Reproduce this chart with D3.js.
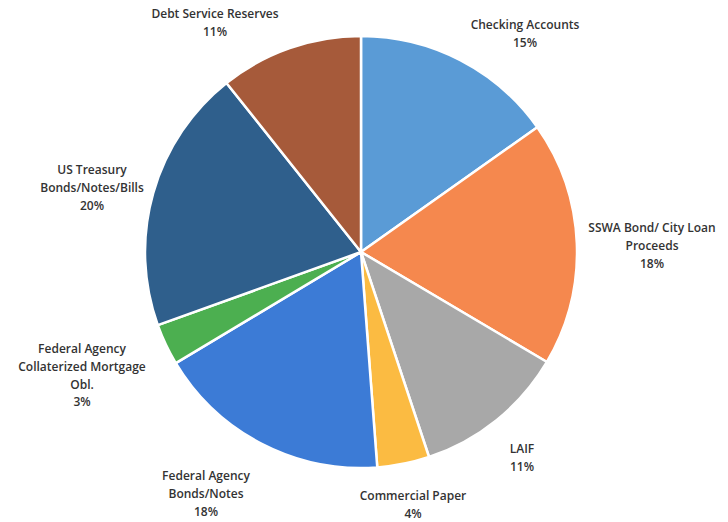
<!DOCTYPE html>
<html>
<head>
<meta charset="utf-8">
<script src="https://cdn.jsdelivr.net/npm/d3@7"></script>
<style>
  body { margin: 0; background: #fff; }
  svg { display: block; }
  .lbl { font-family: "Open Sans", "Liberation Sans", sans-serif; font-size: 12px; font-weight: 600; fill: #333; }
</style>
</head>
<body>
<svg id="chart" width="728" height="522"></svg>
<script>
// data, clockwise from 12 o'clock
const categories = [
  ["Checking Accounts"],
  ["SSWA Bond/ City Loan", "Proceeds"],
  ["LAIF"],
  ["Commercial Paper"],
  ["Federal Agency", "Bonds/Notes"],
  ["Federal Agency", "Collaterized Mortgage", "Obl."],
  ["US Treasury", "Bonds/Notes/Bills"],
  ["Debt Service Reserves"]
];
const values = [15.2, 18.3, 11.4, 3.9, 17.6, 3.1, 19.8, 10.7];
const percentLabels = ["15%", "18%", "11%", "4%", "18%", "3%", "20%", "11%"];
const colors = ["#5a9bd6", "#f5884e", "#a8a8a8", "#fbbb42", "#3c7bd6", "#4caf50", "#2f5f8c", "#a65a3a"];

// label anchors (center x, first line baseline y)
const labelPos = [[525, 29], [652, 232], [522, 453], [413, 500], [206, 480], [82, 353], [92, 174], [215, 18]];

const cx = 361, cy = 252, radius = 216;
const svg = d3.select("#chart");

const pie = d3.pie().sort(null).value(d => d);
const arc = d3.arc().innerRadius(0).outerRadius(radius);

const g = svg.append("g").attr("transform", `translate(${cx},${cy})`);

g.selectAll("path")
  .data(pie(values))
  .join("path")
  .attr("d", arc)
  .attr("fill", (d, i) => colors[i])
  .attr("stroke", "#fff")
  .attr("stroke-width", 2.5)
  .attr("stroke-linejoin", "round");

const lineH = 17.8;
const labels = svg.selectAll(".lbl")
  .data(categories)
  .join("text")
  .attr("class", "lbl")
  .attr("text-anchor", "middle")
  .attr("transform", (d, i) => `translate(${labelPos[i][0]},${labelPos[i][1]})`);

labels.each(function (lines, i) {
  const t = d3.select(this);
  lines.concat([percentLabels[i]]).forEach((s, k) => {
    t.append("tspan").attr("x", 0).attr("y", k * lineH).text(s);
  });
});
</script>
</body>
</html>
